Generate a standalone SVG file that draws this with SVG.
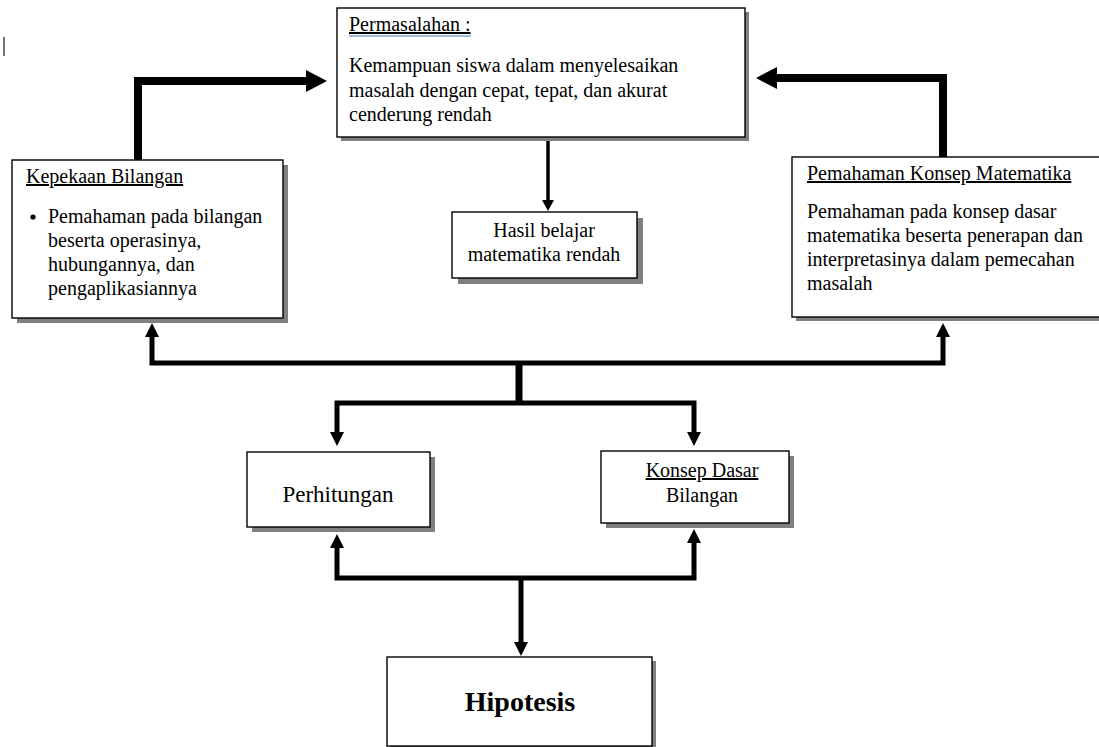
<svg xmlns="http://www.w3.org/2000/svg" width="1099" height="747" viewBox="0 0 1099 747">
<style>
.box{fill:#fff;stroke:#000;stroke-width:1.4}
.sh{fill:#808080}
.t{font-family:"Liberation Serif","Times New Roman",serif;font-size:20px;fill:#000}
.c{text-anchor:middle}
.u{text-decoration:underline}
.thick{fill:none;stroke:#000;stroke-width:8}
.med{fill:none;stroke:#000;stroke-width:5}
.thin{fill:none;stroke:#000;stroke-width:3.5}
</style>
<defs>
<marker id="hThick" markerUnits="userSpaceOnUse" markerWidth="22" markerHeight="22" refX="1" refY="11" orient="auto-start-reverse" overflow="visible"><path d="M0,0 L21,11 L0,22 Z" fill="#000"/></marker>
<marker id="hMed" markerUnits="userSpaceOnUse" markerWidth="14" markerHeight="14" refX="1" refY="7" orient="auto-start-reverse" overflow="visible"><path d="M0,0 L14,7 L0,14 Z" fill="#000"/></marker>
<marker id="hThin" markerUnits="userSpaceOnUse" markerWidth="12" markerHeight="12" refX="1" refY="6" orient="auto-start-reverse" overflow="visible"><path d="M0,0 L11,6 L0,12 Z" fill="#000"/></marker>
</defs>
<rect width="1099" height="747" fill="#fff"/>
<line x1="4" y1="37" x2="4" y2="56" stroke="#444" stroke-width="1.5"/>

<g id="connectors">
<path class="thick" d="M138,160 V81 H307" marker-end="url(#hThick)"/>
<path class="thick" d="M943,157 V78 H776" marker-end="url(#hThick)"/>
<path class="thin" d="M548,137 V201" marker-end="url(#hThin)"/>
<path class="med" d="M152,336 V363 H943 V336" marker-start="url(#hMed)" marker-end="url(#hMed)"/>
<path d="M519,363 V403" fill="none" stroke="#000" stroke-width="7"/>
<path class="med" d="M337,433 V403 H694 V433" marker-start="url(#hMed)" marker-end="url(#hMed)"/>
<path class="med" d="M337,547 V578 H694 V542" marker-start="url(#hMed)" marker-end="url(#hMed)"/>
<path class="med" d="M521,578 V643" marker-end="url(#hMed)"/>
</g>

<g id="permasalahan">
<rect class="sh" x="341" y="12" width="408" height="129"/>
<rect class="box" x="337" y="8" width="408" height="129"/>
<text class="t u" x="349" y="31">Permasalahan :</text>
<line x1="349" y1="36" x2="471" y2="36" stroke="#4472c4" stroke-width="1"/>
<text class="t" x="349" y="72">Kemampuan siswa dalam menyelesaikan</text>
<text class="t" x="349" y="97">masalah dengan cepat, tepat, dan akurat</text>
<text class="t" x="349" y="121">cenderung rendah</text>
</g>

<g id="kepekaan">
<rect class="sh" x="17" y="165" width="271" height="158"/>
<rect class="box" x="12" y="160" width="271" height="158"/>
<text class="t u" x="26" y="183">Kepekaan Bilangan</text>
<circle cx="33" cy="217" r="2.6" fill="#000"/>
<text class="t" x="48" y="223">Pemahaman pada bilangan</text>
<text class="t" x="48" y="247">beserta operasinya,</text>
<text class="t" x="48" y="271">hubungannya, dan</text>
<text class="t" x="48" y="295">pengaplikasiannya</text>
</g>

<g id="pemahaman">
<rect class="sh" x="796" y="161" width="320" height="160"/>
<rect class="box" x="792" y="157" width="320" height="160"/>
<text class="t u" x="807" y="180">Pemahaman Konsep Matematika</text>
<text class="t" x="807" y="218">Pemahaman pada konsep dasar</text>
<text class="t" x="807" y="242">matematika beserta penerapan dan</text>
<text class="t" x="807" y="266">interpretasinya dalam pemecahan</text>
<text class="t" x="807" y="290">masalah</text>
</g>

<g id="hasil">
<rect class="sh" x="458" y="218" width="185" height="66"/>
<rect class="box" x="452" y="212" width="185" height="66"/>
<text class="t c" x="544" y="237">Hasil belajar</text>
<text class="t c" x="544" y="261">matematika rendah</text>
</g>

<g id="perhitungan">
<rect class="sh" x="252" y="457" width="183" height="75"/>
<rect class="box" x="247" y="452" width="183" height="75"/>
<text class="t c" x="338" y="502" style="font-size:23px">Perhitungan</text>
</g>

<g id="konsep">
<rect class="sh" x="606" y="456" width="188" height="72"/>
<rect class="box" x="601" y="451" width="188" height="72"/>
<text class="t c u" x="702" y="477">Konsep Dasar</text>
<text class="t c" x="702" y="502">Bilangan</text>
</g>

<g id="hipotesis">
<rect class="sh" x="391" y="661" width="265" height="89"/>
<rect class="box" x="387" y="657" width="265" height="89"/>
<text class="t c" x="520" y="711" style="font-size:28px;font-weight:bold">Hipotesis</text>
</g>
</svg>
